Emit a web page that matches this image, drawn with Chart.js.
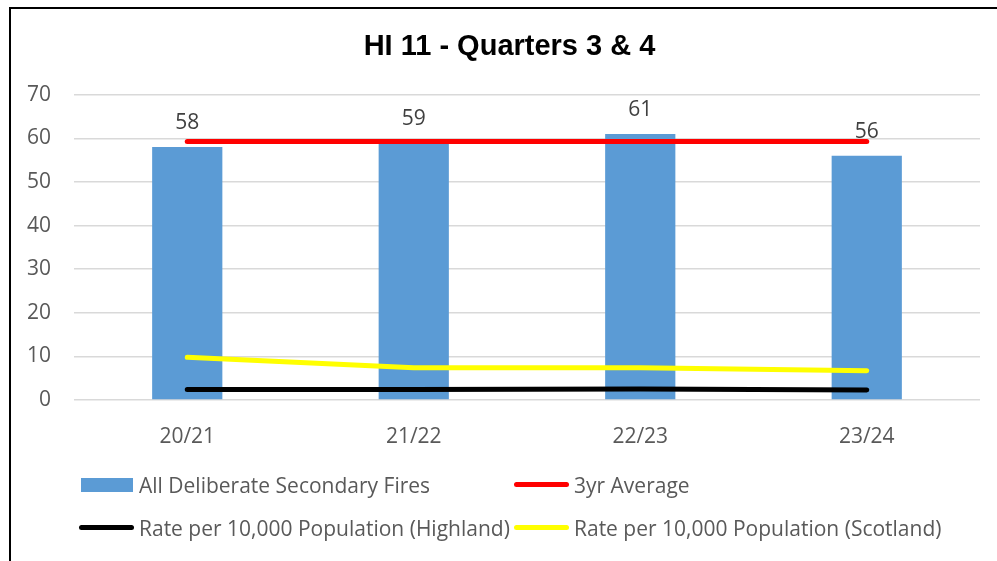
<!DOCTYPE html>
<html>
<head>
<meta charset="utf-8">
<script src="https://cdn.jsdelivr.net/npm/chart.js@4.4.0/dist/chart.umd.min.js"></script>
<style>
  html, body { margin: 0; padding: 0; background: #fff; }
  #wrap { position: relative; width: 997px; height: 561px; overflow: hidden; }
  #frame { position: absolute; left: 9px; top: 7px; width: 1200px; height: 800px;
           border-left: 2px solid #000; border-top: 2px solid #000; }
  #chart { position: absolute; left: 0; top: 0; }
  #legend { position: absolute; left: 0; top: 0; width: 997px; height: 561px;
            font-family: 'Open Sans', sans-serif; font-size: 21px; color: #595959; }
  .item { position: absolute; height: 30px; line-height: 30px; white-space: nowrap; }
  .sw { position: absolute; }
  .txt { position: absolute; top: 0; }
</style>
</head>
<body>
<div id="wrap">
  <div id="frame"></div>
  <canvas id="chart" width="997" height="561"></canvas>
  <div id="legend"></div>
</div>
<script>
const categorias = ['20/21', '21/22', '22/23', '23/24'];
const fuegos = [58, 59, 61, 56];
const media3 = [59.3, 59.3, 59.3, 59.3];
const tasaHighland = [2.4, 2.4, 2.5, 2.3];
const tasaEscocia = [9.8, 7.4, 7.4, 6.7];

Chart.defaults.font.family = "'Open Sans', sans-serif";
Chart.defaults.color = '#595959';

// etiquetas encima de las barras
const etiquetasBarras = {
    id: 'etiquetasBarras',
    afterDatasetsDraw(chart) {
        const ctx = chart.ctx;
        const meta = chart.getDatasetMeta(0);
        ctx.save();
        ctx.font = "21px 'Open Sans', sans-serif";
        ctx.fillStyle = '#404040';
        ctx.textAlign = 'center';
        ctx.textBaseline = 'middle';
        meta.data.forEach((bar, i) => {
            ctx.fillText(chart.data.datasets[0].data[i], bar.x, bar.y - 24);
        });
        ctx.restore();
    }
};

// el titulo va centrado sobre el marco original, un poco a la derecha
const moverTitulo = {
    id: 'moverTitulo',
    afterLayout(chart) {
        if (chart.titleBlock) chart.titleBlock.left = 39;
    }
};

const datos = {
    labels: categorias,
    datasets: [{
        type: 'bar',
        label: 'All Deliberate Secondary Fires',
        data: fuegos,
        backgroundColor: '#5B9BD5',
        barPercentage: 0.31,
        categoryPercentage: 1,
        order: 1
    }, {
        type: 'line',
        label: '3yr Average',
        data: media3,
        borderColor: '#FF0000',
        borderWidth: 5,
        borderCapStyle: 'round',
        pointRadius: 0,
        order: 0
    }, {
        type: 'line',
        label: 'Rate per 10,000 Population (Highland)',
        data: tasaHighland,
        borderColor: '#000000',
        borderWidth: 5,
        borderCapStyle: 'round',
        pointRadius: 0,
        order: 0
    }, {
        type: 'line',
        label: 'Rate per 10,000 Population (Scotland)',
        data: tasaEscocia,
        borderColor: '#FFFF00',
        borderWidth: 5,
        borderCapStyle: 'round',
        pointRadius: 0,
        order: 0
    }]
};

const opciones = {
    responsive: false,
    animation: false,
    layout: { padding: { left: 0, right: 17, top: 0, bottom: 100 } },
    plugins: {
        legend: { display: false },
        tooltip: { enabled: false },
        title: {
            display: true,
            text: 'HI 11 - Quarters 3 & 4',
            color: '#000',
            font: { family: "'Liberation Sans', Arial, sans-serif", size: 29, weight: 'bold' },
            padding: { top: 30, bottom: 30 }
        }
    },
    scales: {
        x: {
            grid: { display: false },
            border: { display: false },
            ticks: { font: { size: 21 }, padding: 16, color: '#595959' },
            afterFit: (s) => { s.height = 61; }
        },
        y: {
            min: 0,
            max: 70,
            ticks: { stepSize: 10, font: { size: 21 }, padding: 23, color: '#595959' },
            grid: { color: '#D9D9D9', lineWidth: 1.5, drawTicks: false },
            border: { display: false },
            afterFit: (s) => { s.width = 74; }
        }
    }
};

const grafica = new Chart(document.getElementById('chart'), {
    data: datos,
    options: opciones,
    plugins: [etiquetasBarras, moverTitulo]
});

// leyenda en html, dos columnas
function crearLeyenda(chart) {
    const cols = [81, 516];
    const filas = [470, 513];
    const cont = document.getElementById('legend');
    cont.innerHTML = '';
    chart.data.datasets.forEach((ds, i) => {
        const item = document.createElement('div');
        item.className = 'item';
        item.style.left = cols[i % 2] + 'px';
        item.style.top = filas[Math.floor(i / 2)] + 'px';
        const sw = document.createElement('span');
        sw.className = 'sw';
        if (ds.type === 'bar') {
            sw.style.cssText = 'left:0;top:8px;width:52px;height:14px;background:' + ds.backgroundColor;
        } else {
            sw.style.cssText = 'left:-2px;top:12px;width:55px;height:5px;border-radius:3px;background:' + ds.borderColor;
        }
        const txt = document.createElement('span');
        txt.className = 'txt';
        txt.style.left = '58px';
        txt.textContent = ds.label;
        item.appendChild(sw);
        item.appendChild(txt);
        cont.appendChild(item);
    });
}

crearLeyenda(grafica);
</script>
</body>
</html>
